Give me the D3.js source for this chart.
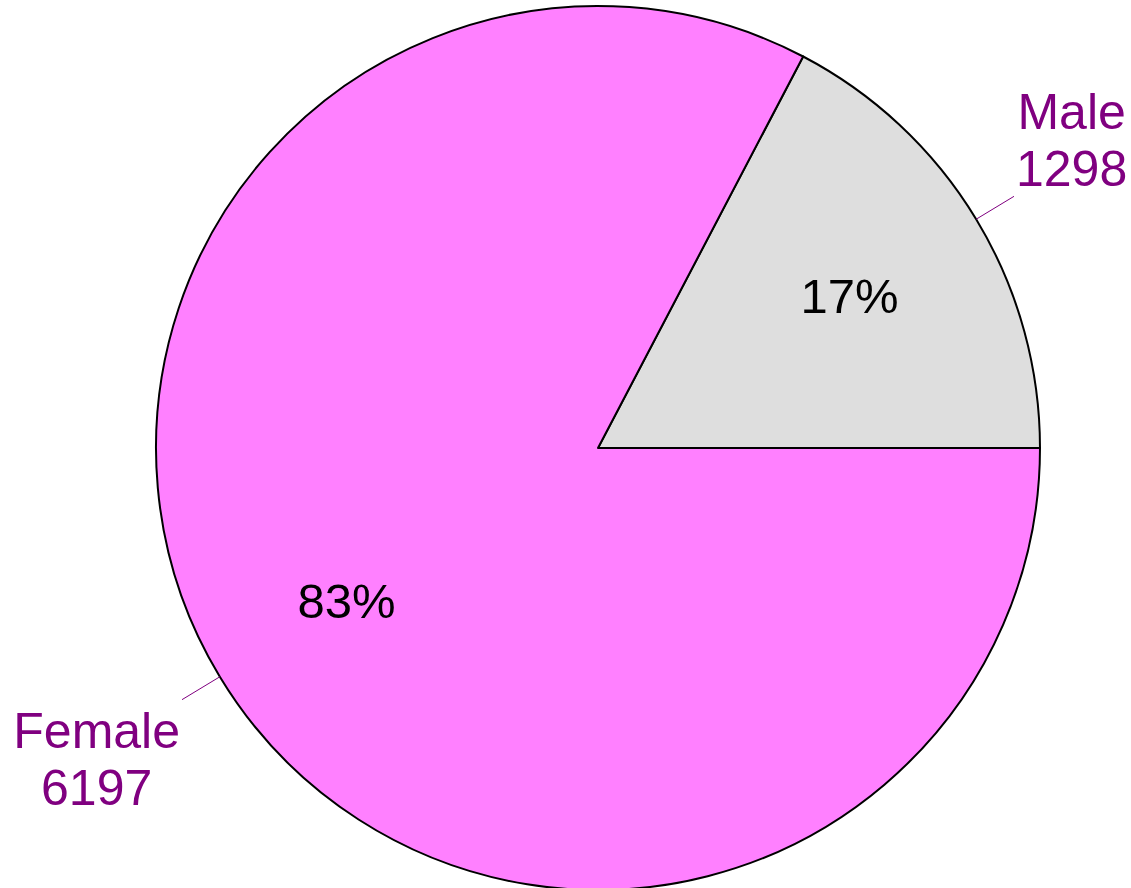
<!DOCTYPE html>
<html>
<head>
<meta charset="utf-8">
<script src="https://cdn.jsdelivr.net/npm/d3@7"></script>
<style>
  body { margin: 0; background: #fff; }
  svg { display: block; font-family: Arial, "Liberation Sans", sans-serif; }
</style>
</head>
<body>
<svg id="chart" width="1131" height="888"></svg>
<script>
// values
let categories = ['Male', 'Female'];
let counts = [1298, 6197];
let colors = ['#dedede', '#ff80ff'];

let svg = d3.select('#chart'),
    cx = 598,
    cy = 448,
    radius = 442,
    g = svg.append('g').attr('transform', 'translate(' + cx + ',' + cy + ')');

let src_data = categories.map(function (c, i) { return [c, counts[i]]; });
let total = d3.sum(counts);

// counter-clockwise from 3 o'clock
let pie = d3.pie()
    .sort(null)
    .startAngle(Math.PI / 2)
    .endAngle(Math.PI / 2 - 2 * Math.PI)
    .value(function (d) { return d[1]; });

let path = d3.arc().outerRadius(radius).innerRadius(0);
let label = d3.arc().outerRadius(radius * 0.665).innerRadius(radius * 0.665);

let color = d3.scaleOrdinal(categories, colors);

let arcs = pie(src_data);

let arc = g.selectAll('.arc')
    .data(arcs)
    .enter().append('g')
    .attr('class', 'arc');

arc.append('path')
    .attr('d', path)
    .attr('fill', function (d) { return color(d.data[0]); })
    .attr('stroke', '#000')
    .attr('stroke-width', 2)
    .attr('stroke-linejoin', 'round');

arc.append('text')
    .attr('transform', function (d) { return 'translate(' + label.centroid(d) + ')'; })
    .attr('text-anchor', 'middle')
    .attr('dy', '0.36em')
    .attr('font-size', 49)
    .attr('fill', '#000')
    .text(function (d) { return Math.round(d.data[1] / total * 100) + '%'; });

// outside labels with leader lines
arcs.forEach(function (d) {
    let a = (d.startAngle + d.endAngle) / 2 - Math.PI / 2;
    let x0 = Math.cos(a) * radius, y0 = Math.sin(a) * radius;
    let x1 = Math.cos(a) * radius * 1.1, y1 = Math.sin(a) * radius * 1.1;
    g.append('line')
        .attr('x1', x0).attr('y1', y0)
        .attr('x2', x1).attr('y2', y1)
        .attr('stroke', '#800080')
        .attr('stroke-width', 1);

    let right = x1 > 0;
    let lineH = 57;
    // upper labels sit above the line end, lower ones below
    let firstBase = y1 < 0 ? y1 - 10 - lineH : y1 + 48;
    let t = g.append('text')
        .attr('font-size', 50)
        .attr('fill', '#800080')
        .attr('text-anchor', 'middle');
    let lines = [d.data[0], String(d.data[1])];
    // measure block width to align the block to the line end
    let tmp = g.append('text').attr('font-size', 50).text(lines[0]);
    let w0 = tmp.node().getComputedTextLength();
    tmp.text(lines[1]);
    let w1 = tmp.node().getComputedTextLength();
    tmp.remove();
    let bw = Math.max(w0, w1);
    let mid = right ? x1 + 2 + bw / 2 : x1 - 2 - bw / 2;
    lines.forEach(function (s, i) {
        t.append('tspan')
            .attr('x', mid)
            .attr('y', firstBase + i * lineH)
            .text(s);
    });
});
</script>
</body>
</html>
